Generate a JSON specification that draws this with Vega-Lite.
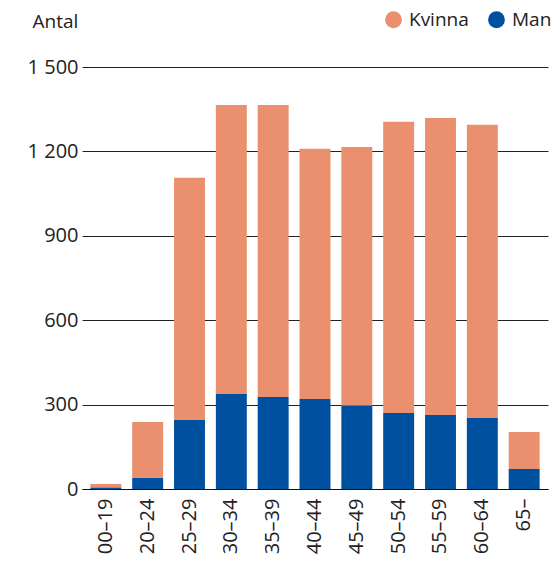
{
  "$schema": "https://vega.github.io/schema/vega-lite/v6.json",
  "width": 466,
  "height": 422,
  "autosize": {"type": "none"},
  "padding": {"left": 82, "top": 67, "right": 6, "bottom": 77},
  "background": "white",
  "config": {
    "font": "Open Sans",
    "view": {"stroke": null}
  },
  "data": {
    "values": [
      {"alder": "00–19", "kon": "Kvinna", "antal": 13},
      {"alder": "00–19", "kon": "Man", "antal": 5},
      {"alder": "20–24", "kon": "Kvinna", "antal": 199},
      {"alder": "20–24", "kon": "Man", "antal": 39},
      {"alder": "25–29", "kon": "Kvinna", "antal": 861},
      {"alder": "25–29", "kon": "Man", "antal": 245},
      {"alder": "30–34", "kon": "Kvinna", "antal": 1027},
      {"alder": "30–34", "kon": "Man", "antal": 338},
      {"alder": "35–39", "kon": "Kvinna", "antal": 1038},
      {"alder": "35–39", "kon": "Man", "antal": 327},
      {"alder": "40–44", "kon": "Kvinna", "antal": 889},
      {"alder": "40–44", "kon": "Man", "antal": 320},
      {"alder": "45–49", "kon": "Kvinna", "antal": 920},
      {"alder": "45–49", "kon": "Man", "antal": 296},
      {"alder": "50–54", "kon": "Kvinna", "antal": 1035},
      {"alder": "50–54", "kon": "Man", "antal": 270},
      {"alder": "55–59", "kon": "Kvinna", "antal": 1056},
      {"alder": "55–59", "kon": "Man", "antal": 263},
      {"alder": "60–64", "kon": "Kvinna", "antal": 1043},
      {"alder": "60–64", "kon": "Man", "antal": 252},
      {"alder": "65–", "kon": "Kvinna", "antal": 132},
      {"alder": "65–", "kon": "Man", "antal": 71}
    ]
  },
  "mark": {"type": "bar"},
  "encoding": {
    "x": {
      "field": "alder",
      "type": "nominal",
      "sort": null,
      "scale": {"paddingInner": 0.26, "paddingOuter": 0.2},
      "axis": {
        "title": null,
        "labelAngle": -90,
        "labelAlign": "right",
        "labelBaseline": "middle",
        "labelPadding": 9,
        "labelFontSize": 20,
        "labelColor": "#222",
        "ticks": false,
        "domain": true,
        "domainColor": "#111",
        "domainWidth": 1.2
      }
    },
    "y": {
      "field": "antal",
      "type": "quantitative",
      "stack": "zero",
      "scale": {"domain": [0, 1500], "nice": false},
      "axis": {
        "values": [0, 300, 600, 900, 1200, 1500],
        "labelExpr": "replace(format(datum.value, ','), ',', ' ')",
        "labelFontSize": 20,
        "labelColor": "#222",
        "labelPadding": 4,
        "ticks": false,
        "domain": false,
        "grid": true,
        "gridColor": "#222",
        "gridWidth": 1,
        "title": "Antal",
        "titleAngle": 0,
        "titleAlign": "left",
        "titleBaseline": "alphabetic",
        "titleX": -50,
        "titleY": -40,
        "titleFontSize": 19,
        "titleFontWeight": "normal",
        "titleColor": "#222"
      }
    },
    "color": {
      "field": "kon",
      "type": "nominal",
      "scale": {"domain": ["Kvinna", "Man"], "range": ["#EB906F", "#0050A0"]},
      "legend": {
        "title": null,
        "orient": "none",
        "direction": "horizontal",
        "legendX": 302,
        "legendY": -57,
        "symbolType": "circle",
        "symbolSize": 283,
        "symbolStrokeWidth": 0,
        "labelFontSize": 19,
        "labelColor": "#222",
        "labelOffset": 6,
        "columnPadding": 18
      }
    },
    "order": {"field": "kon", "sort": "descending"}
  }
}
